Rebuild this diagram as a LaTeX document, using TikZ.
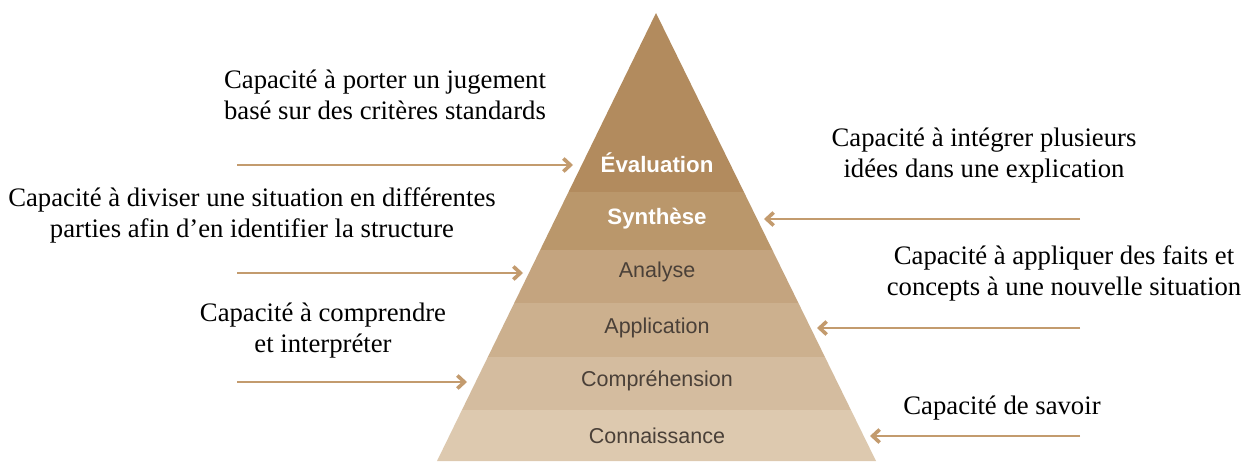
\documentclass[tikz,border=0pt]{standalone}
\usepackage{fontspec}
\setmainfont{Liberation Serif}
\newfontfamily\lblfont{Liberation Sans}
\usetikzlibrary{arrows.meta}
\definecolor{bA}{HTML}{B28B5E}
\definecolor{bB}{HTML}{BA976B}
\definecolor{bC}{HTML}{C4A47F}
\definecolor{bD}{HTML}{CCB08E}
\definecolor{bE}{HTML}{D4BC9F}
\definecolor{bF}{HTML}{DDC9AF}
\definecolor{arr}{HTML}{C39B6E}
\definecolor{lblgray}{HTML}{4A4038}
\tikzset{
  desc/.style={font=\fontsize{26.7}{31}\selectfont, align=center, inner sep=0pt, text=black},
  lvl/.style={font=\lblfont\fontsize{21.5}{24}\selectfont, inner sep=0pt, text=lblgray},
  lvltop/.style={font=\lblfont\bfseries\fontsize{22.3}{24}\selectfont, inner sep=0pt, text=white},
  conn/.style={draw=arr, line width=2.6pt, -{Straight Barb[length=7pt,width=13pt,line width=3.6pt]}}
}
\begin{document}
\begin{tikzpicture}[x=1pt,y=-1pt]
\useasboundingbox (0,0) rectangle (1252,461);
\fill[white] (0,0) rectangle (1252,461);
% pyramid
\begin{scope}
\clip (656,13) -- (876,461) -- (437,461) -- cycle;
\fill[bA] (400,0) rectangle (900,192);
\fill[bB] (400,192) rectangle (900,250);
\fill[bC] (400,250) rectangle (900,303);
\fill[bD] (400,303) rectangle (900,357);
\fill[bE] (400,357) rectangle (900,410);
\fill[bF] (400,410) rectangle (900,462);
\end{scope}
% level labels
\node[lvltop] (eval) at (657,163) {Évaluation};
\node[lvltop] (synth) at (657,219) {Synthèse};
\node[lvl] (anal) at (657,272) {Analyse};
\node[lvl] (appl) at (657,328) {Application};
\node[lvl] (compr) at (657,381) {Compréhension};
\node[lvl] (conn) at (657,436) {Connaissance};
% descriptions
\node[desc] (d1) at (385,95) {Capacité à porter un jugement\\basé sur des critères standards};
\node[desc] (d2) at (252,215) {Capacité à diviser une situation en différentes\\parties afin d’en identifier la structure};
\node[desc] (d3) at (323,331) {Capacité à comprendre\\et interpréter};
\node[desc] (d4) at (984,156) {Capacité à intégrer plusieurs\\idées dans une explication};
\node[desc] (d5) at (1064,273) {Capacité à appliquer des faits et\\concepts à une nouvelle situation};
\node[desc] (d6) at (1002,408) {Capacité de savoir};
% arrow ends
\coordinate (s1) at (237,165); \coordinate (t1) at (573,165);
\coordinate (s2) at (237,273); \coordinate (t2) at (523,273);
\coordinate (s3) at (237,382); \coordinate (t3) at (467,382);
\coordinate (s4) at (1080,219); \coordinate (t4) at (764,219);
\coordinate (s5) at (1080,328); \coordinate (t5) at (817,328);
\coordinate (s6) at (1080,436); \coordinate (t6) at (870,436);
\draw[conn] (s1) -- (t1);
\draw[conn] (s2) -- (t2);
\draw[conn] (s3) -- (t3);
\draw[conn] (s4) -- (t4);
\draw[conn] (s5) -- (t5);
\draw[conn] (s6) -- (t6);
\end{tikzpicture}
\end{document}
